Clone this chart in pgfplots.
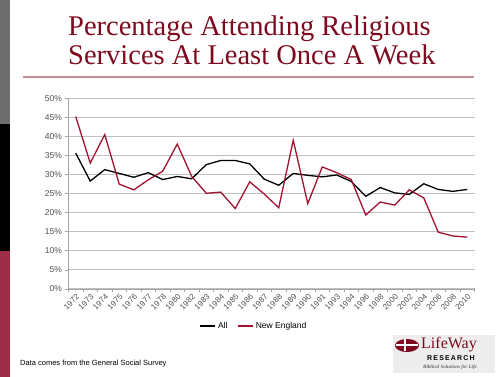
\documentclass[border=0pt]{standalone}
\usepackage{pgfplots}
\pgfplotsset{compat=1.18}
\usepackage{fontspec}
\setmainfont{Liberation Sans}
\newfontfamily\seriffont{Liberation Serif}
\definecolor{titlered}{RGB}{125,10,30}
\definecolor{nered}{RGB}{160,20,50}
\definecolor{barred}{RGB}{155,45,70}
\definecolor{bargrey}{RGB}{110,110,110}
\definecolor{ulred}{RGB}{200,140,150}
\definecolor{gridgrey}{RGB}{192,192,192}
\definecolor{axgrey}{RGB}{165,165,165}
\definecolor{lblgrey}{RGB}{80,80,80}
\begin{document}
\begin{tikzpicture}[x=1pt,y=1pt]
\path[use as bounding box] (0,0) rectangle (500,377);
% slide decoration
\fill[bargrey] (0,253) rectangle (10,377);
\fill[black] (0,126) rectangle (10,253);
\fill[barred] (0,0) rectangle (10,126);
% title
\node[anchor=base west,inner sep=0,text=titlered] at (68,341.3) {\seriffont\fontsize{28.5}{30}\selectfont Percentage Attending Religious};
\node[anchor=base west,inner sep=0,text=titlered] at (68,312.7) {\seriffont\fontsize{28.5}{30}\selectfont Services At Least Once A Week};
\draw[ulred,line width=1.2pt] (23,300) -- (474,300);
% source
\node[anchor=base west,inner sep=0] at (20,11) {\fontsize{7.5}{9}\selectfont Data comes from the General Social Survey};
% logo
\fill[black!7] (393,4) rectangle (495,42);
\fill[titlered] (407,31.5) ellipse (12pt and 6.5pt);
\draw[white,line width=1.6pt] (405,26) -- (405,38);
\draw[white,line width=1.6pt] (396,32) -- (418,32);
\node[anchor=base west,inner sep=0,text=titlered] at (421,28) {\seriffont\fontsize{16}{18}\selectfont LifeWay};
\node[anchor=base west,inner sep=0] at (427,16.5) {\fontsize{7}{8}\selectfont\bfseries R\,E\,S\,E\,A\,R\,C\,H};
\node[anchor=base west,inner sep=0,text=black!60] at (423,8.5) {\seriffont\fontsize{5}{6}\selectfont\itshape\bfseries Biblical Solutions for Life};
\begin{axis}[
  at={(68.5pt,88pt)}, anchor=south west,
  scale only axis, width=406pt, height=190.7pt,
  xmin=-0.5, xmax=27.5, ymin=0, ymax=50,
  axis x line*=bottom, axis y line*=left,
  axis line style={axgrey,line width=0.9pt},
  ytick={0,5,...,50},
  yticklabel={\pgfmathparse{int(round(\tick))}\pgfmathresult\%},
  yticklabel style={font=\fontsize{8.5}{10}\selectfont,text=lblgrey},
  ymajorgrids, grid style={gridgrey,line width=1.1pt},
  major y tick style={axgrey,line width=0.8pt},
  tick align=outside, major tick length=3pt,
  xtick={0,...,27}, major x tick style={draw=none},
  minor xtick={-0.5,0.5,...,27.5}, minor x tick style={axgrey,line width=0.8pt}, minor tick length=3pt,
  xticklabels={1972,1973,1974,1975,1976,1977,1978,1980,1982,1983,1984,1985,1986,1987,1988,1989,1990,1991,1993,1994,1996,1998,2000,2002,2004,2006,2008,2010},
  xticklabel style={font=\fontsize{8}{9}\selectfont,text=lblgrey,rotate=45,anchor=north east,inner sep=1pt},
  legend style={at={(0.457,-0.194)},anchor=center,draw=none,fill=none,font=\fontsize{8.5}{10}\selectfont,legend columns=2,/tikz/every even column/.append style={column sep=8pt}},
  legend image code/.code={\draw[#1] (0,0) -- (15pt,0);},
]
\addplot[black,line width=1.3pt] coordinates {
(0,35.6)(1,28.3)(2,31.3)(3,30.3)(4,29.3)(5,30.5)(6,28.7)(7,29.5)(8,28.9)(9,32.6)(10,33.7)(11,33.7)(12,32.8)(13,28.8)(14,27.2)(15,30.3)(16,29.8)(17,29.4)(18,29.9)(19,28.2)(20,24.3)(21,26.6)(22,25.2)(23,24.8)(24,27.6)(25,26.1)(26,25.6)(27,26.1)};
\addlegendentry{All}
\addplot[nered,line width=1.3pt] coordinates {
(0,45.2)(1,33.0)(2,40.5)(3,27.5)(4,26.0)(5,28.6)(6,30.9)(7,38.0)(8,29.5)(9,25.1)(10,25.4)(11,21.1)(12,28.1)(13,24.9)(14,21.3)(15,39.0)(16,22.4)(17,32.0)(18,30.5)(19,28.7)(20,19.4)(21,22.8)(22,22.0)(23,26.0)(24,23.9)(25,14.9)(26,13.9)(27,13.6)};
\addlegendentry{New England}
\end{axis}
\end{tikzpicture}
\end{document}
